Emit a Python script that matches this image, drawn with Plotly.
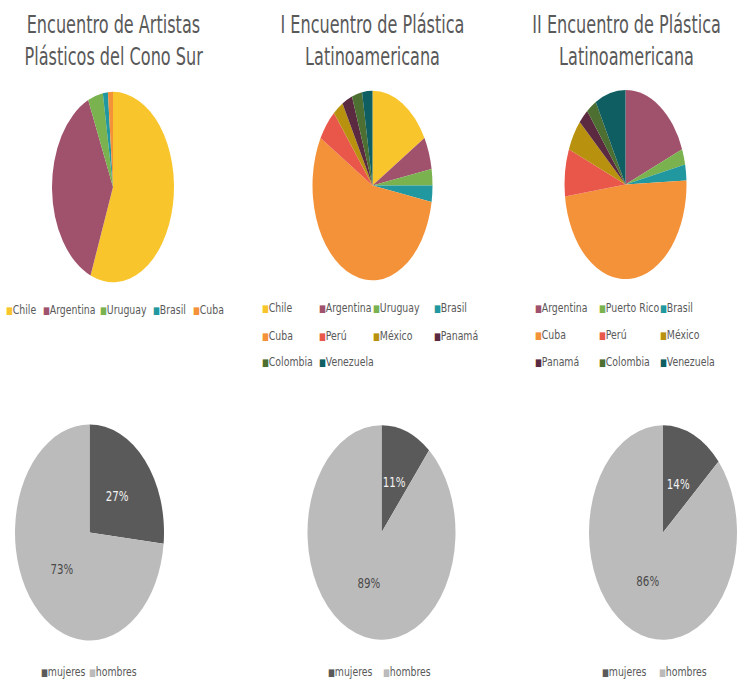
import json
import plotly.graph_objects as go

# ---------------- data ----------------
TITLE_1 = ["Encuentro de Artistas", "Plásticos del Cono Sur"]
TITLE_2 = ["I Encuentro de Plástica", "Latinoamericana"]
TITLE_3 = ["II Encuentro de Plástica", "Latinoamericana"]

COUNTRIES_1 = ["Chile", "Argentina", "Uruguay", "Brasil", "Cuba"]
ARTISTS_1 = [42, 28, 3, 1, 1]

COUNTRIES_2 = ["Chile", "Argentina", "Uruguay", "Brasil", "Cuba",
               "Perú", "México", "Panamá", "Colombia", "Venezuela"]
ARTISTS_2 = [6, 2, 1, 1, 20, 2, 1, 1, 1, 1]

COUNTRIES_3 = ["Argentina", "Puerto Rico", "Brasil", "Cuba", "Perú",
               "México", "Panamá", "Colombia", "Venezuela"]
ARTISTS_3 = [7, 1, 1, 18, 3, 2, 1, 1, 3]

GENDERS = ["mujeres", "hombres"]
GENDER_1 = [20, 55]
GENDER_2 = [4, 32]
GENDER_3 = [5, 32]

# ---------------- styles ----------------
COUNTRY_COLORS = {
    "Chile": "#F8C62C", "Argentina": "#A0526D", "Uruguay": "#7AB24F",
    "Puerto Rico": "#7AB24F", "Brasil": "#2198A0", "Cuba": "#F4923A",
    "Perú": "#E9574B", "México": "#B8920F", "Panamá": "#5B2A41",
    "Colombia": "#4E6F32", "Venezuela": "#0F5E62",
}
GENDER_COLORS = ["#5A5A5A", "#BBBBBB"]
GENDER_TEXT = ["#F2F2F2", "#4A4A4A"]
FONT = "DejaVu Sans Condensed, DejaVu Sans, sans-serif"
TXT = "#595959"
PIE_FS = 14
W, H = 738, 680


def px_dom(cx, cy, diam, hbox):
    x = [(cx - diam / 2) / W, (cx + diam / 2) / W]
    y = [1 - (cy + hbox / 2) / H, 1 - (cy - hbox / 2) / H]
    return dict(x=x, y=y)


fig = go.Figure()

top = [(COUNTRIES_1, ARTISTS_1, (113, 187, 122)),
       (COUNTRIES_2, ARTISTS_2, (372.5, 185.5, 120)),
       (COUNTRIES_3, ARTISTS_3, (625.5, 184.5, 122))]
for labels, vals, (cx, cy, d) in top:
    fig.add_trace(go.Pie(
        labels=labels, values=vals, sort=False, direction="clockwise",
        rotation=0, textinfo="none", showlegend=False,
        marker=dict(colors=[COUNTRY_COLORS[c] for c in labels],
                    line=dict(width=0)),
        domain=px_dom(cx, cy, d, 200), hoverinfo="label+value+percent",
    ))

bottom = [(GENDER_1, (89.5, 532.5, 149)),
          (GENDER_2, (381.5, 532.5, 148)),
          (GENDER_3, (663, 532.5, 148))]
for vals, (cx, cy, d) in bottom:
    fig.add_trace(go.Pie(
        labels=GENDERS, values=vals, sort=False, direction="clockwise",
        rotation=0, texttemplate="%{percent:.0%}", textposition="inside",
        insidetextorientation="horizontal", showlegend=False,
        textfont=dict(family=FONT, size=PIE_FS, color=GENDER_TEXT),
        marker=dict(colors=GENDER_COLORS, line=dict(width=0)),
        domain=px_dom(cx, cy, d, 230),
    ))

annotations = []
modes = []
# titles
for lines, cx in [(TITLE_1, 113.5), (TITLE_2, 372.5), (TITLE_3, 626)]:
    for j, line in enumerate(lines):
        annotations.append(dict(
            text=line, x=cx / W, y=1 - (25 + 32 * j) / H, xref="paper",
            yref="paper", xanchor="center", yanchor="middle", showarrow=False,
            font=dict(family=FONT, size=24, color=TXT)))
        modes.append(["c", 0.745])

# legends (item grid positions)
legends = [
    (COUNTRIES_1, [COUNTRY_COLORS[c] for c in COUNTRIES_1], [4, 41, 98, 151, 191], [310]),
    (COUNTRIES_2, [COUNTRY_COLORS[c] for c in COUNTRIES_2], [260, 316.5, 371, 432], [308, 335, 361.5]),
    (COUNTRIES_3, [COUNTRY_COLORS[c] for c in COUNTRIES_3], [532.5, 596.5, 657.5], [307.5, 334.5, 361]),
    (GENDERS, GENDER_COLORS, [39, 86.5], [671.5]),
    (GENDERS, GENDER_COLORS, [326, 381.5], [671.5]),
    (GENDERS, GENDER_COLORS, [600, 656.5], [671.5]),
]
for names, cols, xs, ys in legends:
    n = len(xs)
    for i, (name, col) in enumerate(zip(names, cols)):
        x = xs[i % n]
        y = ys[i // n]
        annotations.append(dict(
            text=f"<span style='color:{col};font-size:10px'>■</span>{name}",
            x=x / W, y=1 - y / H, xref="paper", yref="paper",
            xanchor="left", yanchor="middle", showarrow=False,
            font=dict(family=FONT, size=13, color=TXT)))
        modes.append(["l", 0.8])

fig.update_layout(
    width=W, height=H, margin=dict(l=0, r=0, t=0, b=0),
    paper_bgcolor="white", plot_bgcolor="white",
    annotations=annotations,
    uniformtext=dict(minsize=PIE_FS, mode="show"),
    font=dict(family=FONT, color=TXT),
)

# vertical stretch factors that turn the round pies into the ellipses of the
# original, horizontal squeeze of the (narrow) typeface, and the relative
# radius at which the percentage labels sit (as in the spreadsheet original)
STRETCH = [1.56, 1.58, 1.55, 1.45, 1.45, 1.45]
SX_PIE = 0.8
LABEL_R = 0.5
js = """
var gd = document.getElementById('{plot_id}');
var NS = 'http://www.w3.org/2000/svg';
function wrap(el){
  var w = document.createElementNS(NS, 'g');
  el.parentNode.insertBefore(w, el);
  w.appendChild(el);
  return w;
}
var K = __K__;
var SXP = __SXP__;
var LR = __LR__;
var FS = __FS__;
var MODES = __MODES__;
gd.querySelectorAll('.pielayer .trace').forEach(function(t, i){
  var k = K[i];
  var bb = t.getBBox();
  var cx = bb.x + bb.width / 2;
  var cy = bb.y + bb.height / 2;
  t.querySelectorAll('g.slicetext').forEach(function(s){
    var slice = s.parentNode;
    var pt = slice ? slice.__data__ : null;
    var w = wrap(s);
    var b = w.getBBox();
    if (!b.width) return;
    var tx = b.x + b.width / 2, ty = b.y + b.height / 2;
    var f = Math.max(1, (FS * 1.164) / b.height);
    var X = tx, Y = ty;
    if (pt && pt.pxmid) { X = cx + LR * pt.pxmid[0]; Y = cy + LR * pt.pxmid[1]; }
    w.setAttribute('transform', 'translate(' + X + ',' + Y + ') scale(' + (SXP * f) + ',' + (f / k) + ') translate(' + (-tx) + ',' + (-ty) + ')');
  });
  t.setAttribute('transform', 'translate(0,' + cy + ') scale(1,' + k + ') translate(0,' + (-cy) + ')');
});
gd.querySelectorAll('g.annotation').forEach(function(a){
  var idx = +a.getAttribute('data-index');
  var m = MODES[idx];
  var txt = a.querySelector('text.annotation-text');
  if (!txt || !m) return;
  var w = wrap(txt);
  var b = w.getBBox();
  var px = m[0] === 'c' ? b.x + b.width / 2 : b.x;
  w.setAttribute('transform', 'translate(' + px + ',0) scale(' + m[1] + ',1) translate(' + (-px) + ',0)');
});
"""
js = (js.replace("__K__", json.dumps(STRETCH))
        .replace("__SXP__", json.dumps(SX_PIE))
        .replace("__LR__", json.dumps(LABEL_R))
        .replace("__FS__", json.dumps(PIE_FS))
        .replace("__MODES__", json.dumps(modes)))

fig.write_html("out.html", post_script=js)
